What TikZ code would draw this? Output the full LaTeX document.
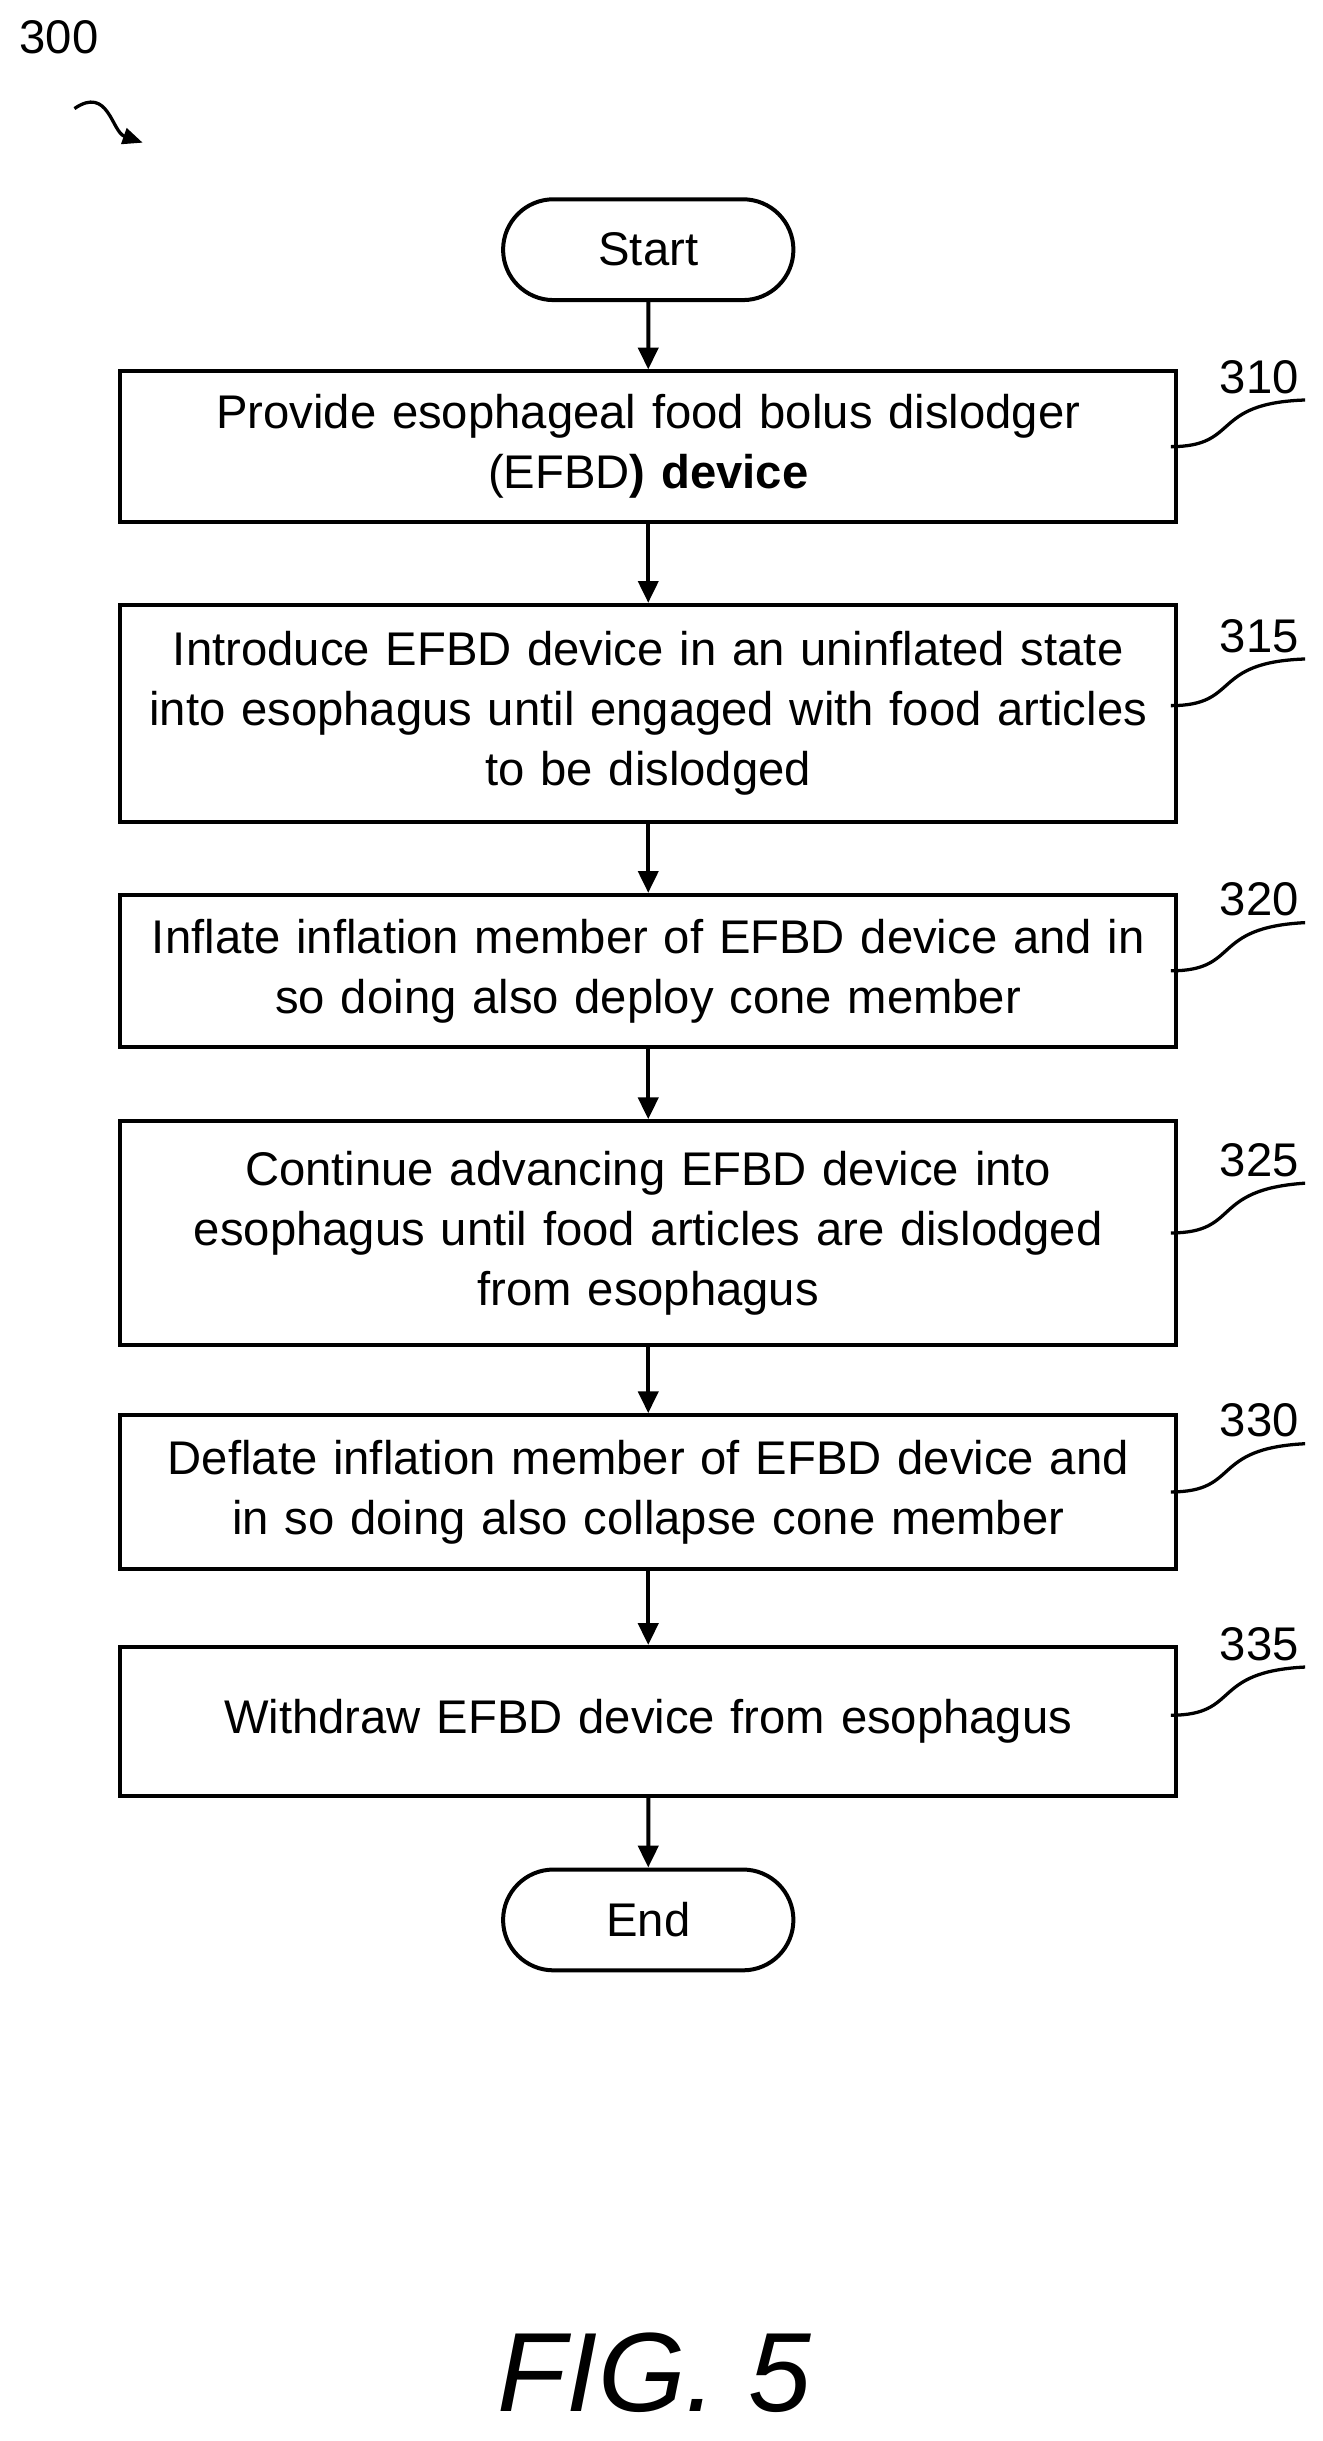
\documentclass[tikz,border=0pt]{standalone}
\usepackage{fontspec}
\setmainfont{Liberation Sans}
\usetikzlibrary{positioning,arrows.meta,shapes}
\begin{document}
\begin{tikzpicture}[x=0.03cm,y=-0.03cm,
  stepbox/.style={draw,line width=2.2pt,minimum width=20.25cm,text width=20.2cm,align=center,font=\fontsize{26}{33}\selectfont},
  term/.style={draw,line width=2.2pt,rounded rectangle,minimum width=5.85cm,minimum height=1.95cm,font=\fontsize{26}{33}\selectfont},
  ref/.style={font=\fontsize{26}{28}\selectfont},
  flow/.style={-{Triangle[length=12pt,width=11pt]},line width=2.2pt}]
\useasboundingbox (0,0) rectangle (853,1574);

\node[term] (start) at (418,161) {Start};
\node[stepbox,minimum height=2.91cm] (s310) at (418,288) {Provide esophageal food bolus dislodger\\(EFBD\textbf{) device}};
\node[stepbox,minimum height=4.2cm] (s315) at (418,460) {Introduce EFBD device in an uninflated state\\into esophagus until engaged with food articles\\to be dislodged};
\node[stepbox,minimum height=2.94cm] (s320) at (418,626) {Inflate inflation member of EFBD device and in\\so doing also deploy cone member};
\node[stepbox,minimum height=4.32cm] (s325) at (418,795) {Continue advancing EFBD device into\\esophagus until food articles are dislodged\\from esophagus};
\node[stepbox,minimum height=2.97cm] (s330) at (418,962) {Deflate inflation member of EFBD device and\\in so doing also collapse cone member};
\node[stepbox,minimum height=2.88cm] (s335) at (418,1110) {Withdraw EFBD device from esophagus};
\node[term] (end) at (418,1238) {End};

\draw[flow] (start) -- (s310);
\draw[flow] (s310) -- (s315);
\draw[flow] (s315) -- (s320);
\draw[flow] (s320) -- (s325);
\draw[flow] (s325) -- (s330);
\draw[flow] (s330) -- (s335);
\draw[flow] (s335) -- (end);

% reference numerals
\node[ref] (l310) at (812,243) {310};
\node[ref] (l315) at (812,410) {315};
\node[ref] (l320) at (812,580) {320};
\node[ref] (l325) at (812,748) {325};
\node[ref] (l330) at (812,916) {330};
\node[ref] (l335) at (812,1060) {335};
\foreach \s/\l/\y in {s310/l310/288,s315/l315/455,s320/l320/626,s325/l325/795,s330/l330/962,s335/l335/1106}
  \draw[line width=1.8pt] (755,\y) .. controls (800,\y) and (780,\y-28) .. (\l.south east);

\node[ref] (l300) at (38,24) {300};
\coordinate (a300) at (92,92);
\draw[line width=1.8pt,-{Triangle[length=11pt,width=9pt]}] (48,70) .. controls (70,55) and (72,85) .. (a300);

\node[font=\fontsize{62}{70}\selectfont\itshape] (fig) at (422,1530) {FIG. 5};
\end{tikzpicture}
\end{document}
